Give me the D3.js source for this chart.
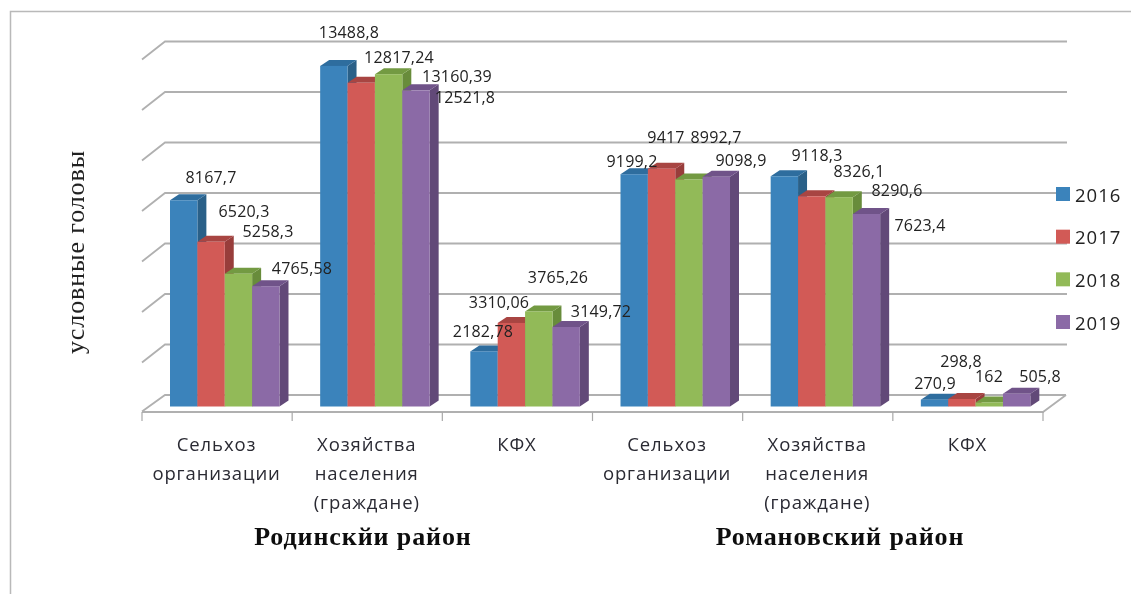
<!DOCTYPE html>
<html><head><meta charset="utf-8">
<script src="https://cdn.jsdelivr.net/npm/d3@7"></script>
<style>html,body{margin:0;padding:0;background:#fff}svg{display:block}</style></head>
<body><svg id="c" width="1131" height="594"><defs><filter id="soft" x="0" y="0" width="100%" height="100%" filterUnits="userSpaceOnUse"><feGaussianBlur stdDeviation="0.45"/></filter></defs></svg>
<script>
const categories = ["Родинский|Сельхоз","Родинский|Хозяйства","Родинский|КФХ","Романовский|Сельхоз","Романовский|Хозяйства","Романовский|КФХ"];
const categoryLabels = [["Сельхоз","организации"],["Хозяйства","населения","(граждане)"],["КФХ"],["Сельхоз","организации"],["Хозяйства","населения","(граждане)"],["КФХ"]];
const seriesNames = ["2016","2017","2018","2019"];
const values2016 = [8167.7,13488.8,2182.78,9199.2,9118.3,270.9];
const values2017 = [6520.3,12817.24,3310.06,9417,8326.1,298.8];
const values2018 = [5258.3,13160.39,3765.26,8992.7,8290.6,162];
const values2019 = [4765.58,12521.8,3149.72,9098.9,7623.4,505.8];
const labels2016 = ["8167,7","13488,8","2182,78","9199,2","9118,3","270,9"];
const labels2017 = ["6520,3","12817,24","3310,06","9417","8326,1","298,8"];
const labels2018 = ["5258,3","13160,39","3765,26","8992,7","8290,6","162"];
const labels2019 = ["4765,58","12521,8","3149,72","9098,9","7623,4","505,8"];
const yTicks = [0,2000,4000,6000,8000,10000,12000,14000];
const groupTitles = ["Родинскйи район","Романовский район"];
const yTitle = "условные головы";

// label placement (centre x, centre y)
const labelPos = [
 [[211,177],[349,32],[483,331],[632,161],[817,155],[935,383]],
 [[244,211],[399,57],[499,302],[666,137],[859,171],[961,361]],
 [[268,231],[457,76],[558,277],[716,137],[897,190],[989,376]],
 [[302,268],[465,97],[601,311],[741,160],[920,225],[1040,376]]
];

const allValues = [values2016,values2017,values2018,values2019];
const allLabels = [labels2016,labels2017,labels2018,labels2019];
const fronts = ["#3b83bb","#d25a57","#92ba58","#8b6ba6"];
const tops   = ["#2f6d9e","#a84442","#739a43","#6f5289"];
const sides  = ["#2a6088","#983d3b","#688c3b","#624a78"];
const LF = "'Open Sans','Noto Sans',sans-serif";
const SF = "'Liberation Serif',serif";

const svg = d3.select("#c");
const root = svg.append("g").attr("filter","url(#soft)");
// outer frame
root.append("path").attr("d","M10.5,594V11.5H1131").attr("fill","none").attr("stroke","#b9b9b9").attr("stroke-width",1.5);

const floorFrontY=412, floorBackY=395, wallDX=23;
const x0 = d3.scaleBand().domain(categories).range([142,1043]);
const y = d3.scaleLinear().domain([0,14000]).range([406.5,53]);
const yWall = v => y(v)-11.5;
const groupOffset=28, groupW=109.5, depthX=9, depthY=6;
const x1 = d3.scaleBand().domain(seriesNames).range([0,groupW]);

// back wall grid and left wall
const grid = root.append("g");
yTicks.forEach(t=>{
  const yy=yWall(t);
  const pts = t===0
   ? [[142,floorFrontY-0.5],[142+wallDX,yy],[142+wallDX+901,yy]]
   : [[142,yy+18],[142+wallDX,yy],[142+wallDX+902,yy]];
  grid.append("polyline").attr("points",pts.join(" ")).attr("fill","none").attr("stroke","#b0b0b0").attr("stroke-width",1.8);
});
// floor
grid.append("path").attr("d",`M142,${floorFrontY}H1043L1066,${floorBackY}`).attr("fill","none").attr("stroke","#b0b0b0").attr("stroke-width",1.8);
x0.domain().concat(["end"]).forEach((c,i)=>{
  const xx = i<6 ? x0(c) : 1043;
  grid.append("line").attr("x1",xx).attr("x2",xx).attr("y1",412).attr("y2",421).attr("stroke","#a8a8a8").attr("stroke-width",1.2);
});

// bars (oblique 3D)
categories.forEach((c,ci)=>{
  seriesNames.forEach((s,si)=>{
    const v=allValues[si][ci];
    const xa=x0(c)+groupOffset+x1(s), w=x1.bandwidth(), ya=y(v), yb=y(0);
    const g=root.append("g");
    g.append("path").attr("fill",sides[si]).attr("d",`M${xa+w},${ya}l${depthX},${-depthY}V${yb-depthY}l${-depthX},${depthY}Z`);
    g.append("path").attr("fill",tops[si]).attr("d",`M${xa},${ya}l${depthX},${-depthY}h${w}l${-depthX},${depthY}Z`);
    g.append("rect").attr("x",xa).attr("y",ya).attr("width",w).attr("height",yb-ya).attr("fill",fronts[si]);
  });
});

// data labels
allLabels.forEach((arr,si)=>arr.forEach((t,ci)=>{
  root.append("text").attr("x",labelPos[si][ci][0]).attr("y",labelPos[si][ci][1]).attr("text-anchor","middle")
    .attr("dominant-baseline","central").attr("font-family",LF).attr("font-size",16).attr("letter-spacing",0.2).attr("fill","#222").text(t);
}));

// category labels
categoryLabels.forEach((ls,i)=>{
  ls.forEach((l,j)=>{
    root.append("text").attr("x",x0(categories[i])+x0.bandwidth()/2-0.5).attr("y",443+j*29.3).attr("text-anchor","middle")
      .attr("dominant-baseline","central").attr("font-family",LF).attr("font-size",18.5).attr("letter-spacing",0.9).attr("fill","#2a2a33").text(l);
  });
});

// group titles
groupTitles.forEach((t,i)=>{
  const cx=[363,840][i];
  root.append("text").attr("x",cx).attr("y",536).attr("text-anchor","middle").attr("dominant-baseline","central")
    .attr("font-family",SF).attr("font-weight","bold").attr("font-size",26).attr("letter-spacing",0.9).attr("fill","#111").text(t);
});

// y title
root.append("text").attr("transform","translate(75,252) rotate(-90)").attr("text-anchor","middle").attr("dominant-baseline","central")
  .attr("font-family",SF).attr("font-size",26).attr("letter-spacing",0.9).attr("fill","#222").text(yTitle);

// legend
const legY=d3.scalePoint().domain(seriesNames).range([194,322]);
seriesNames.forEach((s,i)=>{
  root.append("rect").attr("x",1056).attr("y",legY(s)-7).attr("width",14).attr("height",14).attr("fill",fronts[i]);
  root.append("text").attr("x",1075).attr("y",legY(s)).attr("dominant-baseline","central").attr("font-family",LF)
    .attr("font-size",18.5).attr("letter-spacing",1).attr("fill","#222").text(s);
});
</script></body></html>
